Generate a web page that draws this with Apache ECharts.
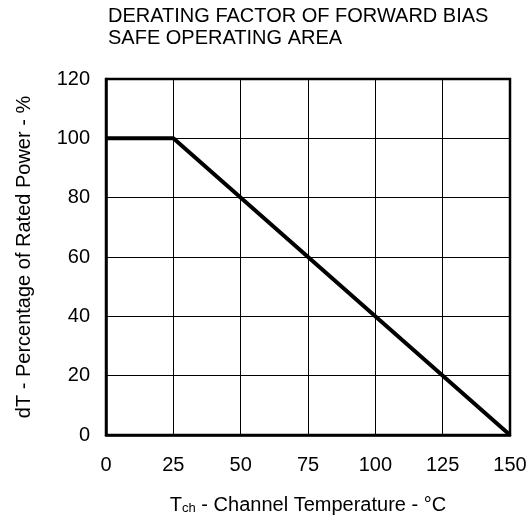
<!DOCTYPE html>
<html>
<head>
<meta charset="utf-8">
<script src="https://cdn.jsdelivr.net/npm/echarts@6/dist/echarts.min.js"></script>
<style>
  html, body { margin: 0; padding: 0; background: #fff; }
  #chart { width: 530px; height: 527px; }
</style>
</head>
<body>
<div id="chart"></div>
<script>
// derating curve points
var tempC = [0, 25, 150];
var ratedPct = [100, 100, 0];
var xTicks = [0, 25, 50, 75, 100, 125, 150];
var yTicks = [0, 20, 40, 60, 80, 100, 120];

var chart = echarts.init(document.getElementById('chart'));
var font = 'Liberation Sans, Arial, sans-serif';

var option = {
    backgroundColor: '#fff',
    animation: false,
    title: {
        text: 'DERATING FACTOR OF FORWARD BIAS\nSAFE OPERATING AREA',
        left: 103,
        top: 0,
        textStyle: {
            fontFamily: font,
            fontSize: 20,
            fontWeight: 'normal',
            color: '#000',
            lineHeight: 22
        }
    },
    grid: {
        left: 106,
        right: 20,
        top: 79,
        bottom: 92,
        show: true,
        borderColor: '#000',
        borderWidth: 2.5
    },
    xAxis: {
        type: 'value',
        min: xTicks[0],
        max: xTicks[xTicks.length - 1],
        interval: 25,
        name: '{a|T}{b|ch}{a| - Channel Temperature - °C}',
        nameLocation: 'middle',
        nameGap: 60,
        nameTextStyle: {
            rich: {
                a: { fontFamily: font, fontSize: 20, color: '#000' },
                b: { fontFamily: font, fontSize: 13, color: '#000', padding: [7, 0, 0, 0] }
            }
        },
        axisLine: { show: true, lineStyle: { color: '#000', width: 2.5 } },
        axisTick: { show: false },
        axisLabel: { fontFamily: font, fontSize: 20, color: '#000', margin: 20 },
        splitLine: { show: true, lineStyle: { color: '#000', width: 1 } }
    },
    yAxis: {
        type: 'value',
        min: yTicks[0],
        max: yTicks[yTicks.length - 1],
        interval: 20,
        name: 'dT - Percentage of Rated Power - %',
        nameLocation: 'middle',
        nameRotate: 90,
        nameGap: 72,
        nameTextStyle: { fontFamily: font, fontSize: 20, color: '#000' },
        axisLine: { show: true, lineStyle: { color: '#000', width: 2.5 } },
        axisTick: { show: false },
        axisLabel: { fontFamily: font, fontSize: 20, color: '#000', margin: 16 },
        splitLine: { show: true, lineStyle: { color: '#000', width: 1 } }
    },
    series: [{
        type: 'line',
        data: tempC.map(function (t, i) { return [t, ratedPct[i]]; }),
        symbol: 'none',
        lineStyle: { color: '#000', width: 4 }
    }]
};
chart.setOption(option, true);
</script>
</body>
</html>
